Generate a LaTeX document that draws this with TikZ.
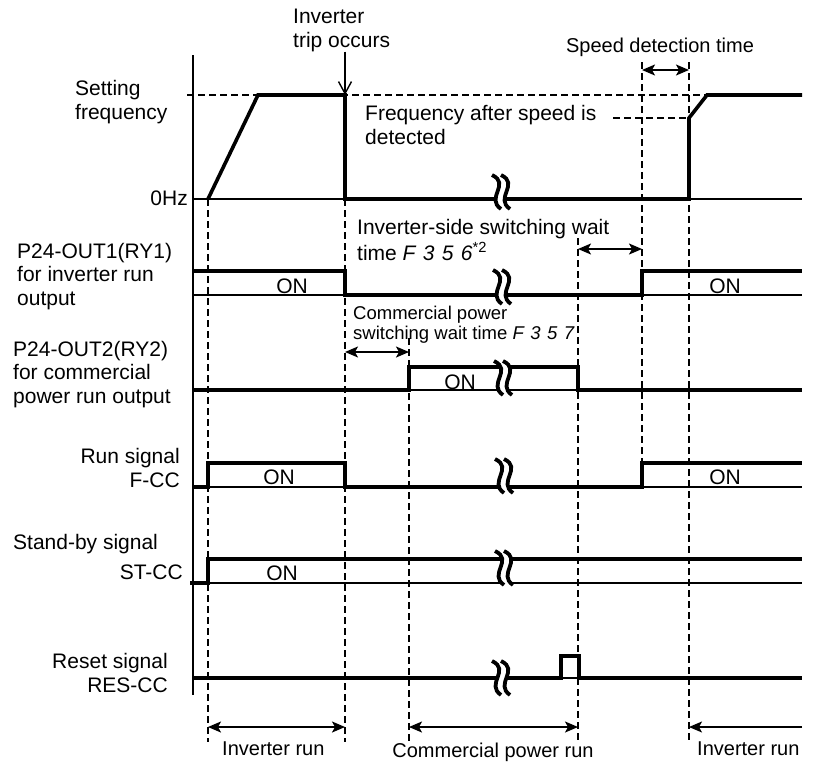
\documentclass[tikz,border=0pt]{standalone}
\usepackage{fontspec}
\setmainfont{Liberation Sans}
\usetikzlibrary{arrows.meta,positioning,calc}
\newcommand{\sevseg}[1]{{\itshape\addfontfeature{LetterSpace=35}#1}}

\begin{document}
\begin{tikzpicture}[x=1pt,y=-1pt,>={Stealth[length=13pt,width=11pt,inset=3pt]},
  font=\fontsize{21}{23.5}\selectfont,
  sig/.style={line width=3.6pt},
  zeroline/.style={line width=1.3pt},
  guide/.style={line width=1.4pt,dash pattern=on 7pt off 4pt},
  dim/.style={line width=1.6pt,<->},
  lbl/.style={inner sep=0pt},
  small/.style={font=\fontsize{20}{23}\selectfont},
  brk/.pic={
    \fill[white] (-10,-17) .. controls (9,-8) and (-17,6) .. (-1,17) -- (8,17) .. controls (-8,6) and (18,-8) .. (-1,-17) -- cycle;
    \draw[line width=3.8pt] (-10,-17) .. controls (9,-8) and (-17,6) .. (-1,17);
    \draw[line width=3.8pt] (-1,-17) .. controls (18,-8) and (-8,6) .. (8,17);}]
  \useasboundingbox (0,0) rectangle (818,761);
  \draw[guide] (187,95) -- (802,95);
  \draw[guide] (613,118) -- (689,118);
  \foreach \x/\a/\b in {208/199/742,345/199/742,409/338/742,578/238/742,642/62/487,689/62/742}
    \draw[guide] (\x,\a) -- (\x,\b);
  \draw[line width=2.6pt] (193,55) -- (193,695);
  \foreach \y in {199,295,390,487,583,678} \draw[zeroline] (193,\y) -- (802,\y);
  \draw[sig] (208,199) -- (258,95) -- (345,95) -- (345,199) -- (689,199) -- (689,118) -- (707,95) -- (802,95);
  \draw[sig] (193,271) -| (345,295) -| (642,271) -- (802,271);
  \draw[sig] (193,390) -| (409,367) -| (578,390) -- (802,390);
  \draw[sig] (193,487) -| (208,463) -| (345,487) -| (642,463) -- (802,463);
  \draw[sig] (190,583) -| (208,559) -- (802,559);
  \draw[sig] (193,678) -| (561,656) -| (579,678) -- (802,678);
  \foreach \x/\y in {502/192,503/287,504/378,505/476,505/568,502/678} \pic at (\x,\y) {brk};
  \node[lbl,align=left,anchor=base west] (setf) at (75,119) {Setting\\frequency};
  \node[lbl,anchor=base east] (zhz) at (188,205) {0Hz};
  \node[lbl,align=left,anchor=base west] (out1) at (17,305) {P24-OUT1(RY1)\\for inverter run\\output};
  \node[lbl,align=left,anchor=base west] (out2) at (13,403) {P24-OUT2(RY2)\\for commercial\\power run output};
  \node[lbl,align=right,anchor=base east] (fcc) at (180,487) {Run signal\\F-CC};
  \node[lbl,anchor=base west] (sby) at (13,549) {Stand-by signal};
  \node[lbl,anchor=base east] (stcc) at (183,579) {ST-CC};
  \node[lbl,align=right,anchor=base east] (rcc) at (168,692) {Reset signal\\RES-CC};
  \node[lbl,align=left,anchor=base west] (trip) at (293,47) {Inverter\\trip occurs};
  \node[lbl,small,anchor=base] (sdt) at (660,52) {Speed detection time};
  \node[lbl,align=left,anchor=base west] (fad) at (365,144) {Frequency after speed is\\detected};
  \node[lbl,align=left,anchor=base west,font=\fontsize{21}{26}\selectfont] (isw) at (357,260)
    {Inverter-side switching wait\\time \sevseg{F356}\textsuperscript{*2}};
  \node[lbl,align=left,anchor=base west,font=\fontsize{18.5}{20}\selectfont] (csw) at (353,339)
    {Commercial power\\switching wait time \sevseg{F357}};
  \foreach \x/\y/\n in {292/293/on1,725/293/on2,460/389/on3,279/484/on4,725/484/on5,282/580/on6}
    \node[lbl,anchor=base] (\n) at (\x,\y) {ON};
  \node[lbl,small,anchor=base west] (irun1) at (222,755) {Inverter run};
  \node[lbl,small,anchor=base] (crun) at (493,757) {Commercial power run};
  \node[lbl,small,anchor=base west] (irun2) at (697,755) {Inverter run};
  \coordinate (tripPt) at (345,95);
  \draw[line width=1.4pt,-{Straight Barb[length=12pt,width=13pt]}] (trip.south -| tripPt) -- (tripPt);
  \coordinate (sdL) at (642,70); \coordinate (sdR) at (689,70);
  \coordinate (iwL) at (578,249); \coordinate (iwR) at (642,249);
  \coordinate (cwL) at (345,352); \coordinate (cwR) at (409,352);
  \coordinate (b1) at (208,727); \coordinate (b2) at (345,727);
  \coordinate (b3) at (409,727); \coordinate (b4) at (578,727);
  \coordinate (b5) at (802,727); \coordinate (b6) at (689,727);
  \draw[dim] (sdL) -- (sdR);
  \draw[dim] (iwL) -- (iwR);
  \draw[dim] (cwL) -- (cwR);
  \draw[dim] (b1) -- (b2);
  \draw[dim] (b3) -- (b4);
  \draw[line width=1.6pt,->] (b5) -- (b6);
\end{tikzpicture}
\end{document}
